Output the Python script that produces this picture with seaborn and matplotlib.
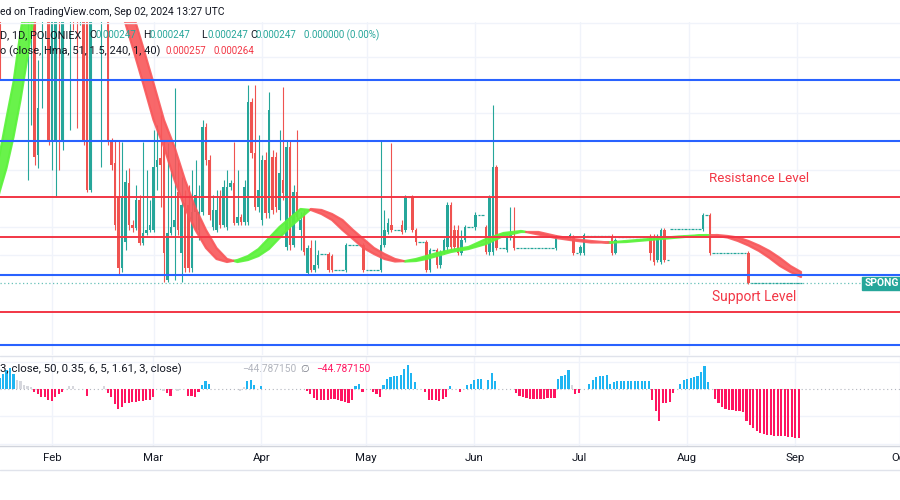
import matplotlib
matplotlib.use("Agg")
import matplotlib.pyplot as plt
from matplotlib.patches import Rectangle
from matplotlib.lines import Line2D
import numpy as np
import pandas as pd
import seaborn as sns

# ---------------- data ----------------
# day index: 0 = 2024-01-01 ; prices in 1e-6 units (chart scale)
jan_start, feb_start, mar_start, apr_start = 16, 31, 60, 91
may_start, jun_start, jul_start, aug_start, sep_start = 121, 152, 182, 213, 244

# (open, high, low, close)
jan_ohlc = [
    (600, 610, 450, 457), (540, 570, 515, 560), (560, 580, 530, 545), (545, 575, 520, 565), (565, 590, 540, 550),
    (550, 580, 525, 570), (570, 590, 530, 540), (540, 560, 506, 508), (515, 560, 350, 540), (510, 560, 405, 540),
    (540, 560, 365, 373), (375, 470, 362, 422), (515, 560, 422, 545), (565, 575, 512, 525), (540, 560, 385, 388),
]
feb_ohlc = [
    (388, 560, 360, 540), (390, 560, 333, 540), (540, 560, 360, 510), (388, 560, 380, 540), (560, 570, 515, 530),
    (515, 560, 400, 545), (560, 570, 500, 520), (530, 560, 402, 515), (515, 560, 505, 545), (540, 560, 385, 388),
    (540, 560, 338, 340), (340, 560, 338, 540), (560, 570, 520, 530), (530, 570, 515, 560), (515, 560, 363, 545),
    (560, 570, 515, 530), (540, 560, 385, 388), (388, 392, 360, 365), (367, 390, 300, 305), (333, 390, 255, 262),
    (262, 388, 258, 332), (288, 360, 280, 348), (347, 362, 300, 305), (305, 310, 298, 302), (302, 345, 300, 330),
    (330, 335, 285, 287), (287, 388, 285, 297), (297, 360, 295, 300), (300, 330, 298, 305),
]
mar_ohlc = [
    (300, 400, 298, 363), (363, 405, 340, 370), (372, 415, 323, 365), (383, 390, 248, 277), (250, 387, 248, 297),
    (297, 360, 295, 303), (303, 442, 250, 310), (338, 368, 295, 300), (277, 353, 248, 325), (327, 340, 258, 262),
    (325, 345, 258, 262), (262, 360, 258, 318), (318, 370, 300, 335), (300, 345, 290, 318), (318, 410, 315, 403),
    (403, 407, 365, 370), (370, 375, 310, 315), (303, 335, 300, 320), (300, 340, 298, 320), (332, 340, 302, 305),
    (305, 350, 303, 343), (303, 360, 300, 343), (343, 350, 340, 347), (347, 388, 305, 307), (307, 360, 305, 313),
    (313, 316, 305, 308), (308, 350, 305, 343), (308, 445, 305, 428), (428, 432, 372, 377), (377, 445, 320, 323),
    (323, 395, 318, 340),
]
apr_ohlc = [
    (310, 375, 305, 370), (370, 378, 312, 317), (317, 438, 312, 420), (373, 380, 316, 320), (373, 378, 318, 323),
    (320, 400, 310, 357), (350, 443, 330, 337), (283, 390, 280, 383), (383, 390, 280, 285), (285, 345, 283, 338),
    (338, 400, 310, 313), (300, 318, 280, 310), (317, 320, 275, 278), (257, 285, 255, 282), (282, 290, 258, 260),
    (260, 290, 258, 265), (265, 280, 262, 275), (276,) * 4, (276,) * 4, (276, 278, 258, 260),
    (274, 276, 258, 260), (260,) * 4, (260,) * 4, (260,) * 4, (260, 287, 258, 285),
    (285,) * 4, (285,) * 4, (285,) * 4, (285,) * 4, (285, 287, 258, 260),
]
may_ohlc = [
    (260,) * 4, (260,) * 4, (260,) * 4, (260,) * 4, (260, 390, 258, 285),
    (285, 320, 283, 300), (298, 312, 296, 307), (305, 387, 298, 300), (300,) * 4, (300,) * 4,
    (305, 310, 296, 298), (300, 335, 298, 333), (333,) * 4, (333, 335, 298, 300), (300, 302, 285, 288),
    (288,) * 4, (288,) * 4, (288, 290, 258, 260), (260, 282, 258, 280), (280,) * 4,
    (280, 282, 262, 265), (265, 280, 262, 278), (278, 292, 276, 290), (283, 328, 280, 325), (325, 328, 280, 283),
    (300, 305, 280, 283), (300, 305, 275, 277), (277, 300, 275, 290), (290, 305, 288, 303), (303,) * 4,
    (303,) * 4,
]
jun_ohlc = [
    (303, 318, 300, 315), (315,) * 4, (315,) * 4, (303, 305, 276, 278), (278, 335, 275, 333),
    (278, 425, 275, 363), (363, 365, 280, 282), (282,) * 4, (282,) * 4, (280, 295, 278, 293),
    (293, 323, 290, 295), (293, 323, 280, 282), (282,) * 4, (282,) * 4, (282,) * 4,
    (282,) * 4, (282,) * 4, (282,) * 4, (282,) * 4, (282,) * 4,
    (282,) * 4, (282,) * 4, (282,) * 4, (282, 295, 280, 293), (293,) * 4,
    (293,) * 4, (293,) * 4, (293, 297, 291, 295), (293, 295, 275, 277), (277,) * 4,
]
jul_ohlc = [
    (277, 285, 275, 283), (277, 297, 275, 295), (294,) * 4, (294,) * 4, (294,) * 4,
    (294,) * 4, (294,) * 4, (294,) * 4, (294,) * 4, (294, 296, 275, 277),
    (277, 292, 276, 290), (293,) * 4, (293,) * 4, (293,) * 4, (293,) * 4,
    (293,) * 4, (293,) * 4, (293,) * 4, (293,) * 4, (293,) * 4,
    (293, 296, 270, 277), (293, 296, 265, 268), (270, 296, 268, 293), (268, 302, 266, 300), (300, 302, 268, 270),
    (270,) * 4, (301,) * 4, (301,) * 4, (301,) * 4, (301,) * 4,
    (301,) * 4,
]
aug_ohlc = [
    (301,) * 4, (301,) * 4, (301,) * 4, (301,) * 4, (301, 317, 299, 315),
    (315,) * 4, (315, 317, 275, 277), (277,) * 4, (277,) * 4, (277,) * 4,
    (277,) * 4, (277,) * 4, (277,) * 4, (277,) * 4, (277,) * 4,
    (277,) * 4, (277,) * 4, (277, 279, 246, 247), (247,) * 4, (247,) * 4,
    (247,) * 4, (247,) * 4, (247,) * 4, (247,) * 4, (247,) * 4,
    (247,) * 4, (247,) * 4, (247,) * 4, (247,) * 4, (247,) * 4,
    (247,) * 4,
]
sep_ohlc = [(247,) * 4, (247,) * 4]

# Hull ribbon (fast / slow lines)
hma_days = [14, 16, 18, 20, 22, 24, 27, 30, 35, 40, 45, 48, 51, 54, 57, 60, 63, 66, 69, 72, 75, 78, 81, 84,
            87, 90, 93, 96, 99, 102, 105, 108, 111, 114, 117, 120, 123, 126, 129, 132, 135, 138, 141, 145,
            150, 155, 160, 165, 170, 175, 180, 185, 190, 195, 200, 205, 210, 215, 218, 221, 224, 227, 230,
            233, 236, 239, 242, 245]
hma_fast = [350, 375, 412, 448, 498, 540, 590, 620, 635, 635, 600, 560, 518, 483, 447, 410, 383, 350, 322, 300,
            282, 271, 268, 270, 274, 281, 292, 303, 312, 321, 320, 316, 310, 300, 291, 282, 276, 271, 268.5, 269,
            271, 274, 277, 280, 283, 291, 297, 299, 295.5, 292, 289.5, 287.5, 287.5, 289, 290.5, 292, 293.5,
            294.5, 295, 294, 292.5, 289, 284.5, 279, 272, 264, 258, 253]
hma_slow = [310, 338, 362, 393, 430, 473, 540, 590, 627, 635, 621, 600, 560, 518, 483, 447, 410, 383, 350, 322,
            300, 282, 271, 268, 270, 274, 281, 292, 303, 312, 321, 320, 316, 310, 300, 291, 282, 276, 271, 268.5,
            269, 271, 274, 278, 281, 286, 294, 298, 298, 294, 291, 289, 287.5, 288, 289.5, 291, 292.5, 294,
            294.5, 295, 294, 292.5, 289, 284.5, 279, 272, 264, 258]

# Oscillator histogram per day
jan_hist = [10, 14, 17, 19, 14, 8, 7, 4, 3, 2, -3, -5, -7, -7, -10]
feb_hist = [-11, -7, -5, -3, 0, 3, 3, 0, 0, 0, -6, 0, 0, 0, 0, 3, -4, -7, -14, -18, -16, -13, -13, -12, -12,
            -11, -11, -10, -10]
mar_hist = [-7, 0, 0, -2, -4, -6, 0, -2, 0, 0, -6, -6, -7, -3, 4, 7, 5, 0, 0, 0, 0, 0, 0, 0, 0, -2, 2, 7, 8, 4, 0]
apr_hist = [3, 0, 0, 0, 0, 0, 0, 0, 0, 0, 0, 0, 0, -2, -5, -8, -10, -10, -10, -10, -9, -9, -10, -11, -12, -13,
            -10, 3, 5, -3]
may_hist = [0, 0, -3, -5, -7, 4, 9, 11, 12, 12, 13, 18, 22, 15, 6, 0, 0, -3, -10, -10, -10, -11, -9, -7, 3, 0,
            0, -3, 0, 4, 5]
jun_hist = [8, 9, 9, 0, 8, 15, 7, 0, 0, 0, 0, 0, -4, -6, -7, -8, -9, -9, -9, -9, -9, -8, -8, -8, 9, 12, 13, 17,
            4, -5]
jul_hist = [-4, 0, 0, 5, 8, 11, 12, 12, 13, 5, 6, 7, 7, 7, 7, 7, 7, 7, 7, 7, 7, -10, -20, -29, -13, -13, -12,
            -4, 0, 5, 8]
aug_hist = [9, 10, 11, 12, 16, 21, 6, 0, -9, -13, -16, -18, -19, -19.5, -20, -20, -21, -29, -33, -36, -38, -40,
            -41, -42, -42.3, -42.5, -42.6, -42.7, -43, -43.5, -44]
sep_hist = [-44.5, -44.787150]
gray_days = [21, 22, 23, 24, 25, 36, 37, 46, 63, 67, 85, 86, 180]

blue_levels = [450, 389, 255, 185]
red_levels = [333, 293, 218]
last_price = 247
month_days = [31, 60, 91, 121, 152, 182, 213, 244, 274]
month_labels = ["Feb", "Mar", "Apr", "May", "Jun", "Jul", "Aug", "Sep", "Oct"]
price_grid = [473, 417, 360, 303, 275]
osc_grid = [25, -25, -50]

# ---------------- assemble ----------------
months = [(jan_start, jan_ohlc, jan_hist), (feb_start, feb_ohlc, feb_hist), (mar_start, mar_ohlc, mar_hist),
          (apr_start, apr_ohlc, apr_hist), (may_start, may_ohlc, may_hist), (jun_start, jun_ohlc, jun_hist),
          (jul_start, jul_ohlc, jul_hist), (aug_start, aug_ohlc, aug_hist), (sep_start, sep_ohlc, sep_hist)]
rows, hrows = [], []
for start, ohlc, hist in months:
    for i, (o, h, l, c) in enumerate(ohlc):
        rows.append((start + i, o, h, l, c))
    for i, v in enumerate(hist):
        hrows.append((start + i, v))
candles = pd.DataFrame(rows, columns=["day", "open", "high", "low", "close"])
osc = pd.DataFrame(hrows, columns=["day", "val"])
osc = osc[osc.val != 0].copy()
osc["kind"] = np.where(osc.day.isin(gray_days), "gray", np.where(osc.val > 0, "up", "down"))

# ---------------- style ----------------
sns.set_style("white")
plt.rcParams["font.family"] = ["Roboto", "DejaVu Sans"]

TEAL = "#26A69A"
RED = "#EF5350"
DARK = "#131722"
GRID = "#F0F3FA"

W, H = 900, 500
fig = plt.figure(figsize=(9, 5), dpi=100)
fig.patch.set_facecolor("white")


def px_axes(x0, y0, x1, y1):
    return fig.add_axes([x0 / W, 1 - y1 / H, (x1 - x0) / W, (y1 - y0) / H])


ax = px_axes(0, 22, 900, 355)
axi = px_axes(0, 356, 900, 446)
XLIM = (16.14, 273.29)

# grid
for p in price_grid:
    ax.axhline(p, color=GRID, lw=1, zorder=0)
for d in month_days:
    ax.axvline(d, color=GRID, lw=1, zorder=0)
    axi.axvline(d, color=GRID, lw=1, zorder=0)
for v in osc_grid:
    axi.axhline(v, color=GRID, lw=1, zorder=0)

# candles
isflat = (candles.high == candles.low)
up = (candles.close >= candles.open) & ~isflat
dn = (candles.close < candles.open) & ~isflat
for mask, col in [(up, TEAL), (dn, RED)]:
    sub = candles[mask]
    ax.vlines(sub.day, sub.low, sub.high, color=col, lw=0.8, zorder=2)
    ax.bar(sub.day, (sub.close - sub.open).abs().clip(lower=1), bottom=np.minimum(sub.open, sub.close),
           width=0.72, color=col, linewidth=0, zorder=2)
fl = candles[isflat]
ax.hlines(fl.close, fl.day - 0.36, fl.day + 0.36, color=TEAL, lw=0.9, zorder=2)

# hull ribbon
hd = np.array(hma_days, float)
hf = np.array(hma_fast, float)
hs = np.array(hma_slow, float)
ax.fill_between(hd, hf, hs, where=hf >= hs, interpolate=True, color="#5CF23C", edgecolor="#5CF23C",
                lw=1.6, alpha=0.92, zorder=3)
ax.fill_between(hd, hf, hs, where=hf <= hs, interpolate=True, color="#F8575A", edgecolor="#F8575A",
                lw=1.6, alpha=0.9, zorder=3)

# levels
for p in blue_levels:
    ax.axhline(p, color="#2962FF", lw=1.5, zorder=4)
for p in red_levels:
    ax.axhline(p, color="#F23645", lw=1.4, zorder=4)
ax.axhline(last_price, xmax=862 / 900, color=TEAL, lw=0.9, ls=(0, (1, 2)), alpha=0.7, zorder=4)

ax.text(233, 352, "Resistance Level", color="#F23645", fontsize=9.6, ha="center", va="center", zorder=5)
ax.text(231.7, 233, "Support Level", color="#F23645", fontsize=10, ha="center", va="center", zorder=5)

ax.set_xlim(*XLIM)
ax.set_ylim(175, 508)
ax.set_xticks([])
ax.set_yticks([])
for s in ax.spines.values():
    s.set_visible(False)

# oscillator
sns.barplot(data=osc, x="day", y="val", hue="kind",
            palette={"up": "#1FB5F2", "down": "#FF1460", "gray": "#D6D7DD"},
            native_scale=True, width=0.62, dodge=False, errorbar=None, legend=False,
            saturation=1, linewidth=0, ax=axi, zorder=2)
axi.axhline(0, color="#B2B5BE", lw=0.8, ls=(0, (1, 2.5)), zorder=1)
axi.set_xlim(*XLIM)
axi.set_ylim(-52.1, 30.2)
axi.set_xlabel("")
axi.set_ylabel("")
axi.set_yticks([])
axi.set_xticks(month_days)
axi.set_xticklabels(month_labels)
axi.tick_params(axis="x", length=0, pad=5, labelsize=8.2, labelcolor=DARK)
for k, s in axi.spines.items():
    s.set_visible(k == "bottom")
axi.spines["bottom"].set_color("#D1D4DC")
axi.spines["bottom"].set_linewidth(1)

# frame lines
for yy, col in [(22.5, "#F0F3FA"), (355.5, "#E0E3EB"), (469.5, "#E0E3EB")]:
    fig.add_artist(Line2D([0, 1], [1 - yy / H] * 2, transform=fig.transFigure, color=col, lw=1))

# last-price label on the (cropped) price scale
fig.add_artist(Rectangle((862 / W, 1 - 290 / H), 40 / W, 13 / H, transform=fig.transFigure,
                         color=TEAL, zorder=6))
fig.text(865 / W, 1 - 283.5 / H, "SPONG", color="white", fontsize=7.5, fontweight="bold",
         va="center", ha="left", zorder=7)


def ftxt(x, y, s, color=DARK, size=7.0, **kw):
    fig.text(x / W, 1 - y / H, s, color=color, fontsize=size, va="center", ha="left", **kw)


ftxt(0, 12, "ed on TradingView.com, Sep 02, 2024 13:27 UTC", size=7.5)
ftxt(0, 35, "D, 1D, POLONIEX", size=7.8)
for xl, lab, xv in [(89, "O", 96), (143, "H", 149), (201, "L", 207), (250, "C", 256)]:
    ftxt(xl, 35, lab, size=7.6)
    ftxt(xv, 35, "0.000247", color=TEAL)
ftxt(304, 35, "0.000000 (0.00%)", color=TEAL)
ftxt(0, 51, "o (close, Hma, 51, 1.5, 240, 1, 40)", size=7.9)
ftxt(166, 51, "0.000257", color="#F23645")
ftxt(213, 51, "0.000264", color="#F23645")
ftxt(0, 369, "3, close, 50, 0.35, 6, 5, 1.61, 3, close)", size=8.2)
ftxt(242, 369, "\u221244.787150", color="#B2B5BE", size=7.3)
ftxt(300, 369, "\u2205", color="#787B86", size=7.3)
ftxt(316, 369, "\u221244.787150", color="#FF1460", size=7.3)

fig.savefig("out.png", dpi=100, facecolor="white")
